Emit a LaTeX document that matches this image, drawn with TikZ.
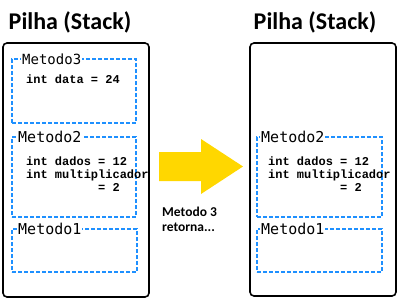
\documentclass[tikz,border=0pt]{standalone}
\usepackage{fontspec}
\setmainfont{Carlito}
\newfontfamily\labelmono{DejaVu Sans Mono}
\newfontfamily\codemono{Liberation Mono}
\definecolor{frameblue}{HTML}{1E90FF}
\definecolor{arrowgold}{HTML}{FFD700}
\begin{document}
\begin{tikzpicture}[x=1pt,y=-1pt,
  title/.style={font=\fontsize{24}{28}\selectfont\bfseries, inner sep=0pt},
  stackbox/.style={draw=black, line width=1.6pt, rounded corners=4pt, inner sep=0pt},
  framebox/.style={draw=frameblue, line width=1.6pt, dash pattern=on 4pt off 2pt, inner sep=0pt},
  framelabel/.style={fill=white, inner xsep=1pt, inner ysep=0pt, anchor=west,
    font=\labelmono\fontsize{15}{17}\selectfont},
  code/.style={anchor=west, align=left, inner sep=0pt,
    font=\codemono\bfseries\fontsize{12}{13}\selectfont},
  note/.style={anchor=west, align=left, inner sep=0pt,
    font=\fontsize{13.5}{15}\selectfont\bfseries}]
  \useasboundingbox (0,0) rectangle (400,300);

  % titles
  \node[title] (ltitle) at (70,22) {Pilha (Stack)};
  \node[title] (rtitle) at (315,22) {Pilha (Stack)};

  % stack before the return
  \node[stackbox, minimum width=146, minimum height=254] (lstack) at (76,170) {};
  \node[framebox, minimum width=124, minimum height=64] (lm3) at (74,91) {};
  \node[framebox, minimum width=124, minimum height=80] (lm2) at (74,177) {};
  \node[framebox, minimum width=125, minimum height=43] (lm1) at (74.5,250.5) {};
  \node[framelabel, font=\labelmono\fontsize{14}{16}\selectfont] (lm3l) at (21,59) {Metodo3};
  \node[framelabel] (lm2l) at (17,137) {Metodo2};
  \node[framelabel] (lm1l) at (17,229) {Metodo1};
  \node[code] (lm3c) at (26,79) {int data = 24};
  \node[code] (lm2c) at (26,174) {int dados = 12\\int multiplicador\\\hphantom{int multi}\hphantom{p}= 2};

  % stack after the return
  \node[stackbox, minimum width=146, minimum height=253] (rstack) at (323,169.5) {};
  \node[framebox, minimum width=125, minimum height=80] (rm2) at (319.5,177) {};
  \node[framebox, minimum width=125, minimum height=43] (rm1) at (319.5,250.5) {};
  \node[framelabel] (rm2l) at (260,137) {Metodo2};
  \node[framelabel] (rm1l) at (260,229) {Metodo1};
  \node[code] (rm2c) at (268,174) {int dados = 12\\int multiplicador\\\hphantom{int multi}\hphantom{p}= 2};

  % transition arrow
  \fill[arrowgold] (159,152) -- (201,152) -- (201,139) -- (243,166.5)
    -- (201,194) -- (201,181) -- (159,181) -- cycle;
  \node[note] (ret) at (162,219.5) {Metodo 3\\retorna...};
\end{tikzpicture}
\end{document}
